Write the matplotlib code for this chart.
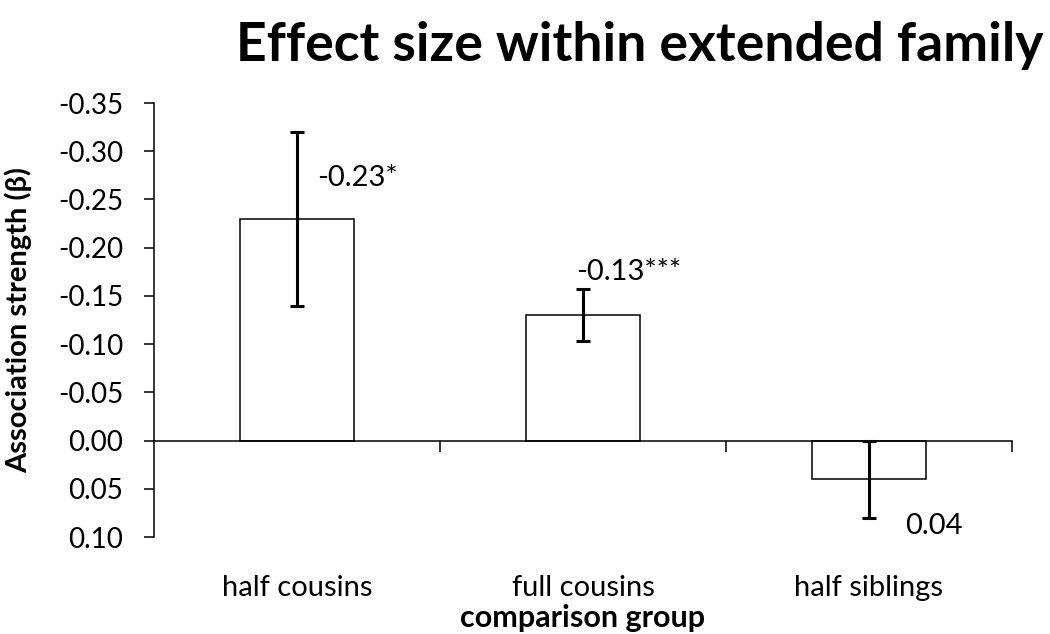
import matplotlib
matplotlib.use("Agg")
import matplotlib.pyplot as plt
import numpy as np

# data
groups = ["half cousins", "full cousins", "half siblings"]
beta = [-0.23, -0.13, 0.04]
err = [0.09, 0.027, 0.04]
labels = ["-0.23*", "-0.13***", "0.04"]
yticks = [-0.35, -0.30, -0.25, -0.20, -0.15, -0.10, -0.05, 0.00, 0.05, 0.10]
ytick_labels = ["-0.35", "-0.30", "-0.25", "-0.20", "-0.15", "-0.10", "-0.05",
                "0.00", "0.05", "0.10"]

plt.rcParams["font.family"] = ["Lato", "DejaVu Sans"]

fig = plt.figure(figsize=(10.5, 6.34), dpi=100)
ax = fig.add_axes([154 / 1050, 1 - 537 / 634, (1012 - 154) / 1050, (537 - 103) / 634])

x = np.arange(len(groups))
ax.bar(x, beta, width=0.4, color="white", edgecolor="black", linewidth=1.1, zorder=2)
ax.errorbar(x, beta, yerr=err, fmt="none", ecolor="black", elinewidth=2.2,
            capsize=5, capthick=2.2, zorder=3)

# value annotations
ax.text(x[0] + 0.07, -0.272, labels[0], fontsize=21, va="center", ha="left")
ax.text(x[1] - 0.024, -0.1746, labels[1], fontsize=21, va="center", ha="left")
ax.text(x[2] + 0.126, 0.089, labels[2], fontsize=21, va="center", ha="left")

ax.set_ylim(0.10, -0.35)
ax.set_xlim(-0.5, 2.5)
ax.set_yticks(yticks)
ax.set_yticklabels(ytick_labels)
ax.tick_params(axis="y", labelsize=20, length=7, width=1.1, direction="out", pad=15)

ax.spines["top"].set_visible(False)
ax.spines["right"].set_visible(False)
ax.spines["left"].set_linewidth(1.1)
ax.spines["bottom"].set_position(("data", 0))
ax.spines["bottom"].set_linewidth(1.1)
ax.set_xticks([0.5, 1.5, 2.5])
ax.set_xticklabels([])
ax.tick_params(axis="x", length=8, width=1.1, direction="out")

for xi, g in zip(x, groups):
    ax.text(xi, -0.118, g, transform=ax.get_xaxis_transform(), ha="center", va="center",
            fontsize=21)
ax.text(1.0, -0.187, "comparison group", transform=ax.get_xaxis_transform(),
        ha="center", va="center", fontsize=22, fontweight="bold")

ax.set_ylabel("Association strength (β)", fontsize=21, fontweight="bold")
ax.yaxis.set_label_coords(-122 / 858, 0.5)

fig.text(0.994, 0.928, "Effect size within extended family", ha="right", va="center",
         fontsize=38.5, fontweight="bold")

fig.savefig("out.png", dpi=100)
